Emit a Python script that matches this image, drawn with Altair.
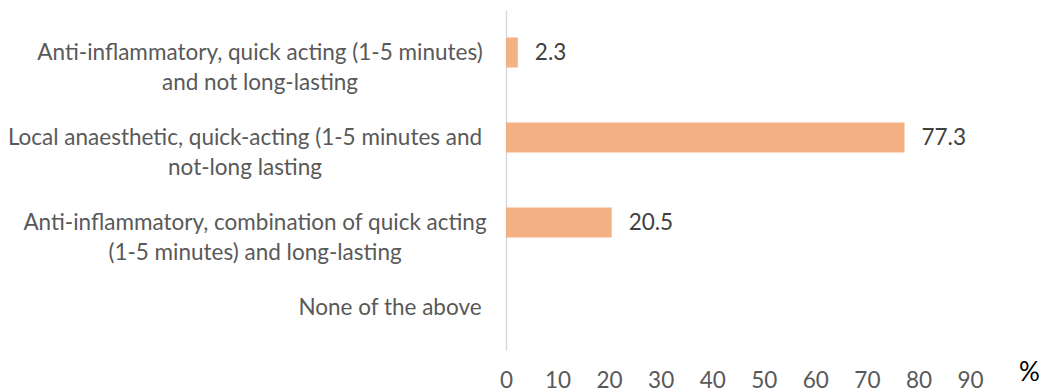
import altair as alt
import pandas as pd

# Survey answers (top to bottom) and the share of respondents choosing each
answers = [
    "Anti-inflammatory, quick acting (1-5 minutes)\nand not long-lasting",
    "Local anaesthetic, quick-acting (1-5 minutes and\nnot-long lasting",
    "Anti-inflammatory, combination of quick acting\n(1-5 minutes) and long-lasting",
    "None of the above",
]
percent = [2.3, 77.3, 20.5, None]
x_tick_values = [0, 10, 20, 30, 40, 50, 60, 70, 80, 90]

FONT = "Lato"
FONT_SIZE = 22.5
GREY_TEXT = "#595959"
VALUE_TEXT = "#404040"
BAR_COLOR = "#F4B183"
AXIS_LINE = "#D9D9D9"

PLOT_W = 464
PLOT_H = 340
CHAR_W = 10.0     # approximate width of one label character
LABEL_GAP = 21    # space between label block and the axis line

df = pd.DataFrame({
    "answer": answers,
    "pct": percent,
    "longest": [max(len(s) for s in a.split("\n")) for a in answers],
})

y_enc = alt.Y(
    "answer:N",
    sort=answers,
    scale=alt.Scale(paddingInner=0.647, paddingOuter=0.3235),
    axis=alt.Axis(labels=False, ticks=False, grid=False, title=None,
                  domainColor=AXIS_LINE, domainWidth=1.5),
)

x_enc = alt.X(
    "pct:Q",
    scale=alt.Scale(domain=[0, 90], nice=False, zero=True),
    axis=alt.Axis(
        values=x_tick_values, format="d", grid=False, domain=False, ticks=False,
        tickSize=0, labelFlush=False, labelFont=FONT, labelFontSize=FONT_SIZE,
        labelColor=GREY_TEXT, labelPadding=19, title="%", titleFont=FONT,
        titleFontSize=26, titleFontWeight="normal", titleColor="#000000",
        titleAngle=0, titleAlign="center", titleBaseline="middle",
        titleX=PLOT_W + 59, titleY=22,
    ),
)

base = alt.Chart(df)

bars = base.mark_bar(color=BAR_COLOR).encode(x=x_enc, y=y_enc)

values_text = base.transform_filter("isValid(datum.pct)").mark_text(
    align="left", baseline="middle", dx=17, font=FONT, fontSize=FONT_SIZE,
    color=VALUE_TEXT,
).encode(x=x_enc, y=y_enc, text=alt.Text("pct:Q", format=".1f"))

# Category labels: multi-line blocks, centred, placed to the left of the axis
category_text = base.transform_calculate(
    lines="split(datum.answer, '\\n')",
    cx=f"-({LABEL_GAP} + datum.longest * {CHAR_W} / 2 + (datum.longest < 20 ? 10 : 0))",
).mark_text(
    align="center", baseline="middle", font=FONT, fontSize=FONT_SIZE,
    color=GREY_TEXT, lineHeight=30,
).encode(
    x=alt.X("cx:Q", scale=None, axis=None),
    y=y_enc,
    text=alt.Text("lines:N"),
)

chart = alt.layer(
    alt.layer(bars, values_text), category_text
).resolve_scale(
    x="independent"
).properties(
    width=PLOT_W,
    height=PLOT_H,
    autosize=alt.AutoSizeParams(type="none"),
    padding={"left": 506, "top": 10, "right": 77, "bottom": 42},
    background="white",
).configure_view(stroke=None)

chart.save("out.html", embed_options={"renderer": "svg", "actions": False})
